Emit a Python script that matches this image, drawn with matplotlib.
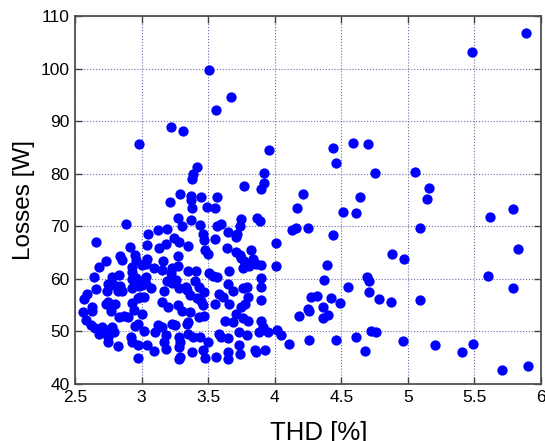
import matplotlib
matplotlib.use("Agg")
import matplotlib.pyplot as plt

plt.rcParams['font.family'] = ['Liberation Sans', 'DejaVu Sans']

# points, (THD %, losses W)
thd_right = [5.89, 5.48, 5.05, 5.16, 5.14, 5.62, 5.79, 5.09, 4.97, 5.83, 5.60, 5.79, 5.09,
             4.96, 5.20, 5.41, 5.49, 5.71, 5.90]
loss_right = [106.8, 103.1, 80.4, 77.3, 75.2, 71.8, 73.3, 69.6, 63.8, 65.7, 60.6, 58.2, 56.0,
              48.2, 47.5, 46.1, 47.7, 42.6, 43.5]

thd_mid = [4.44, 4.59, 4.70, 4.46, 4.75, 4.21, 4.17, 4.64, 4.51, 4.61, 4.13, 4.16, 4.25, 4.44,
           4.88, 4.39, 4.37, 4.55, 4.69, 4.71, 4.71, 4.78, 4.87, 4.27, 4.32, 4.42, 4.49, 4.36,
           4.25, 4.26, 4.18, 4.36, 4.40, 4.05, 4.11, 4.26, 4.46, 4.61, 4.72, 4.76, 4.68, 4.01,
           4.01, 4.02]
loss_mid = [84.8, 85.8, 85.6, 82.0, 80.1, 76.2, 73.4, 75.5, 72.7, 72.5, 69.2, 69.6, 69.7, 68.3,
            64.8, 62.6, 59.8, 58.5, 60.3, 59.5, 57.5, 56.1, 55.6, 56.5, 56.8, 56.3, 55.4, 54.6,
            54.3, 53.9, 53.0, 52.5, 53.1, 49.3, 47.7, 48.4, 48.4, 48.9, 50.1, 49.8, 46.3, 66.9,
            62.4, 50.3]

thd_top = [3.51, 3.67, 3.56, 3.22, 3.31, 3.96, 2.98, 3.42, 3.39, 3.38, 3.92, 3.92, 3.90, 3.77,
           3.29, 3.37, 3.37, 3.45, 3.57, 3.21, 3.38, 3.49, 3.55, 3.27, 3.37, 3.30, 3.44, 3.87,
           3.89, 3.75, 3.74, 3.60, 3.57, 3.19, 3.65, 3.72, 3.71, 3.46, 3.47, 3.55, 3.24, 3.28,
           3.35, 3.18, 3.64, 2.88, 2.66, 3.12, 3.05, 2.91, 3.04, 3.13]
loss_top = [99.7, 94.5, 92.1, 88.8, 88.2, 84.6, 85.6, 81.2, 79.9, 78.9, 80.2, 78.3, 77.1, 77.6,
            76.2, 75.7, 75.0, 75.6, 75.6, 74.6, 73.5, 73.7, 73.4, 71.6, 71.1, 70.0, 70.2, 71.6,
            71.0, 71.3, 70.1, 70.4, 70.1, 69.4, 69.0, 68.5, 68.0, 68.5, 67.4, 67.6, 67.8, 67.0,
            66.3, 66.6, 65.9, 70.4, 67.1, 69.2, 68.5, 66.1, 66.4, 65.8]

thd_left = [2.84, 2.85, 2.73, 2.68, 2.64, 2.95, 2.96, 3.04, 3.03, 3.16, 3.27, 3.27, 3.23, 3.22,
            3.15, 3.09, 3.00, 2.93, 2.93, 2.96, 2.99, 3.03, 3.07, 3.03, 2.83, 2.78, 2.75, 2.79,
            2.84, 2.82, 2.85, 2.74, 2.93, 2.93, 2.98, 3.00, 3.17, 3.19, 3.23, 3.26, 3.28, 3.33,
            2.59, 2.57, 2.63, 2.63, 2.56, 2.58, 2.62, 2.65, 2.68, 2.70, 2.73, 2.78, 2.79, 2.75,
            2.75, 2.82, 2.75, 2.77, 2.80, 2.83, 2.87, 2.90, 2.93, 2.94, 2.97, 2.99, 3.02, 3.00,
            2.95, 2.97, 3.02, 2.92, 2.93, 2.97, 3.04, 2.97, 3.09, 3.12, 3.10, 3.15, 3.18, 3.17,
            3.18, 3.23, 3.25, 3.28, 3.29, 3.28, 3.28, 3.29, 3.15, 3.20, 3.27, 3.30, 3.34, 2.66,
            2.73]
loss_left = [64.4, 63.5, 63.3, 62.3, 60.4, 64.5, 63.6, 63.8, 62.8, 63.4, 64.4, 62.5, 62.0, 61.1,
             61.7, 62.1, 62.6, 62.2, 61.3, 60.1, 59.5, 59.1, 58.2, 60.3, 60.7, 60.4, 59.1, 58.8,
             58.6, 57.6, 57.6, 57.6, 59.9, 58.2, 58.6, 58.8, 57.6, 59.5, 59.3, 59.8, 58.2, 58.5,
             57.2, 56.1, 54.7, 53.8, 53.6, 52.2, 51.2, 50.6, 49.6, 50.9, 50.3, 50.9, 49.9, 49.0,
             47.9, 47.3, 55.5, 53.8, 55.2, 52.8, 52.9, 52.8, 55.4, 54.1, 56.3, 56.5, 56.6, 53.4,
             51.1, 51.4, 50.0, 49.0, 47.9, 47.5, 47.4, 44.9, 46.3, 51.3, 49.9, 50.9, 49.3, 48.0,
             46.6, 51.5, 51.2, 49.0, 47.9, 47.0, 44.7, 45.2, 55.5, 54.7, 55.1, 53.8, 51.5, 58.0,
             55.3]

thd_centre = [3.48, 3.50, 3.71, 3.74, 3.82, 3.75, 3.77, 3.84, 3.86, 3.90, 3.81, 3.76, 3.35, 3.41,
              3.51, 3.54, 3.57, 3.66, 3.90, 3.90, 3.40, 3.43, 3.65, 3.79, 3.76, 3.34, 3.36, 3.47,
              3.58, 3.61, 3.69, 3.80, 3.90, 3.42, 3.45, 3.46, 3.55, 3.66, 3.75, 3.78, 3.36, 3.43,
              3.47, 3.71, 3.76, 3.80, 3.69, 3.63, 3.35, 3.90, 3.91, 3.88, 3.95, 3.35, 3.39, 3.44,
              3.50, 3.58, 3.60, 3.65, 3.73, 3.79, 3.73, 3.38, 3.46, 3.48, 3.56, 3.65, 3.65, 3.74,
              3.85, 3.86, 3.93]
loss_centre = [65.4, 64.7, 65.2, 64.5, 65.5, 63.9, 63.3, 63.7, 62.9, 62.6, 62.4, 62.0, 61.4, 61.4,
               61.1, 60.5, 60.4, 61.4, 60.1, 58.5, 59.5, 58.5, 59.0, 58.5, 58.2, 57.8, 56.9, 57.5,
               57.2, 56.6, 57.6, 56.5, 55.9, 56.3, 55.7, 55.0, 55.3, 55.3, 54.7, 55.3, 53.7, 52.8,
               52.9, 53.3, 52.5, 51.9, 51.7, 51.9, 51.7, 51.9, 50.9, 49.9, 49.8, 49.6, 49.0, 49.0,
               48.0, 49.6, 49.0, 48.7, 49.8, 49.3, 47.5, 46.1, 46.5, 44.9, 45.2, 46.1, 44.7, 45.7,
               46.5, 46.0, 46.5]

thd = thd_right + thd_mid + thd_top + thd_left + thd_centre
loss = loss_right + loss_mid + loss_top + loss_left + loss_centre

fig = plt.figure(figsize=(5.45, 4.41), dpi=100)
ax = fig.add_axes([0.1376, 0.1293, 0.8551, 0.8344])

ax.plot(thd, loss, 'o', color='#0000ff', markersize=7.4, markeredgewidth=0)

ax.set_xlim(2.5, 6)
ax.set_ylim(40, 110)
ax.set_xticks([2.5, 3, 3.5, 4, 4.5, 5, 5.5, 6])
ax.set_xticklabels(['2.5', '3', '3.5', '4', '4.5', '5', '5.5', '6'])
ax.set_yticks(range(40, 111, 10))

ax.grid(True, linestyle=':', color='#6c6ca4', linewidth=0.8)
ax.set_axisbelow(True)
ax.tick_params(direction='in', top=True, right=True, length=5, width=1,
               color='#404040', labelsize=12.5, pad=4)
for s in ax.spines.values():
    s.set_color('#505050')
    s.set_linewidth(1.3)

ax.set_xlabel('THD [%]', fontsize=18.5)
ax.xaxis.set_label_coords(0.524, -0.1, transform=ax.transAxes)
ax.xaxis.label.set_verticalalignment('top')
ax.set_ylabel('Losses [W]', fontsize=17.5, labelpad=4)

fig.savefig('out.png', dpi=100)
